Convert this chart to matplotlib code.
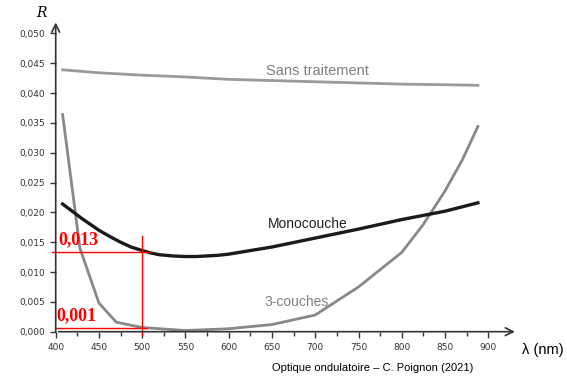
import matplotlib.pyplot as plt

# donnees
lam_sans = [408, 450, 500, 550, 600, 650, 700, 750, 800, 850, 888]
R_sans = [0.0439, 0.0434, 0.0430, 0.0427, 0.0423, 0.0421, 0.0419, 0.0417, 0.0415, 0.0414, 0.0413]

lam_mono = [408, 420, 430, 440, 450, 462, 475, 487, 500, 510, 520, 535, 550, 562, 575, 587, 600, 625, 650, 700, 750, 800, 850, 888]
R_mono = [0.0214, 0.0201, 0.0190, 0.0180, 0.0170, 0.0160, 0.0150, 0.0142, 0.0136, 0.0132, 0.0129, 0.0127, 0.0126, 0.0126, 0.0127, 0.0128, 0.0130, 0.0136, 0.0142, 0.0157, 0.0172, 0.0188, 0.0202, 0.0216]

lam_3c = [408, 428, 450, 470, 500, 550, 600, 650, 700, 750, 800, 825, 850, 870, 888]
R_3c = [0.0364, 0.0140, 0.0048, 0.0016, 0.0007, 0.0002, 0.0005, 0.0012, 0.0028, 0.0075, 0.0133, 0.0180, 0.0236, 0.0288, 0.0344]

xticks = list(range(400, 901, 50))
yticks = [0.000, 0.005, 0.010, 0.015, 0.020, 0.025, 0.030, 0.035, 0.040, 0.045, 0.050]

fig = plt.figure(figsize=(5.67, 3.77), dpi=100)
ax = fig.add_axes([55.7 / 567, 45.3 / 377, 462 / 567, 312 / 377])
ax.set_xlim(400, 934)
ax.set_ylim(0, 0.0523)

ax.plot(lam_sans, R_sans, color='#9a9a9a', lw=2)
ax.plot(lam_3c, R_3c, color='#888888', lw=2)
ax.plot(lam_mono, R_mono, color='#1a1a1a', lw=2.4)

ax.text(643, 0.0437, 'Sans traitement', color='#808080', fontsize=10.5, family='Liberation Sans', va='center')
ax.text(645, 0.0180, 'Monocouche', color='#222222', fontsize=10, family='Liberation Sans', va='center')
ax.text(641, 0.0050, '3-couches', color='#808080', fontsize=10, family='Liberation Sans', va='center')

# axes en fleches
for s in ['top', 'right', 'left', 'bottom']:
    ax.spines[s].set_visible(False)
ax.annotate('', xy=(0, 1.0), xytext=(0, -0.01), xycoords='axes fraction',
            arrowprops=dict(arrowstyle='->', color='#333333', lw=1.2, mutation_scale=14))
ax.annotate('', xy=(1.0, 0), xytext=(0, 0), xycoords='axes fraction',
            arrowprops=dict(arrowstyle='->', color='#333333', lw=1.2, mutation_scale=14))

ax.set_xticks(xticks)
ax.set_xticklabels([str(v) for v in xticks])
ax.set_xticks(list(range(425, 900, 50)), minor=True)
ax.set_yticks(yticks)
ax.set_yticklabels([('%.3f' % v).replace('.', ',') for v in yticks])
ax.tick_params(axis='both', which='major', length=4, width=1, color='#333333', labelsize=6.5, labelcolor='#333333')
ax.tick_params(axis='x', which='minor', length=3, width=1, color='#333333')
ax.tick_params(axis='x', pad=4)

fig.text(41 / 567, 1 - 13 / 377, 'R', fontsize=10, style='italic', family='DejaVu Serif', ha='center', va='center')
fig.text(522 / 567, 1 - 350 / 377, 'λ (nm)', fontsize=10.5, family='Liberation Sans', va='center')
fig.text(272 / 567, 1 - 368 / 377, 'Optique ondulatoire – C. Poignon (2021)', fontsize=8, family='Liberation Sans', va='center')

# lectures en rouge
ax.plot([396, 509], [0.0133, 0.0133], color='red', lw=1, clip_on=False)
ax.plot([500, 500], [-0.0005, 0.0160], color='red', lw=1, clip_on=False)
ax.plot([400, 505], [0.0007, 0.0007], color='red', lw=1, clip_on=False)
ax.text(403, 0.0140, '0,013', color='red', fontsize=13, family='Liberation Serif', weight='bold', va='bottom')
ax.text(401, 0.0012, '0,001', color='red', fontsize=13, family='Liberation Serif', weight='bold', va='bottom')

fig.savefig('out.png', dpi=100)
